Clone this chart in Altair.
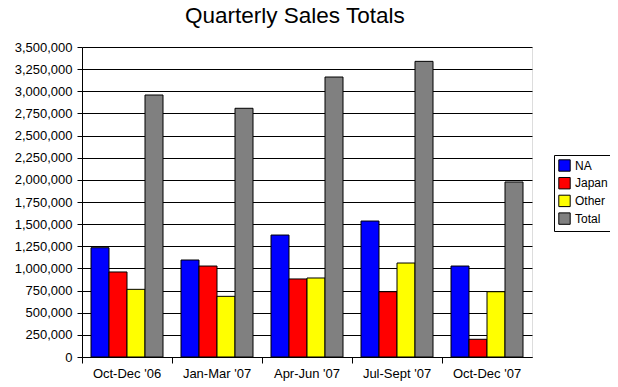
import altair as alt
import pandas as pd

quarters = ["Oct-Dec '06", "Jan-Mar '07", "Apr-Jun '07", "Jul-Sept '07", "Oct-Dec '07"]
series = ["NA", "Japan", "Other", "Total"]
na = [1234000, 1095000, 1377000, 1535000, 1027000]
japan = [960000, 1027000, 881000, 737000, 200000]
other = [764000, 685000, 892000, 1061000, 737000]
total = [2958000, 2808000, 3161000, 3338000, 1976000]
colors = ["#0000FF", "#FF0000", "#FFFF00", "#808080"]
y_ticks = list(range(0, 3500001, 250000))

rows = []
for i, q in enumerate(quarters):
    for s, vals in zip(series, [na, japan, other, total]):
        rows.append({"quarter": q, "series": s, "value": vals[i]})
df = pd.DataFrame(rows)

FONT = "Liberation Sans"

chart = alt.Chart(df).mark_bar(stroke="black", strokeWidth=1).encode(
    x=alt.X("quarter:N", sort=quarters, title=None,
            scale=alt.Scale(paddingInner=0, paddingOuter=0),
            axis=alt.Axis(bandPosition=0, labelAngle=0,
                          tickSize=6, tickColor="black", domainColor="black",
                          labelPadding=4, labelFontSize=13, labelColor="black",
                          labelFont=FONT, grid=False)),
    xOffset=alt.XOffset("series:N", sort=series,
                        scale=alt.Scale(paddingOuter=0.5, paddingInner=0)),
    y=alt.Y("value:Q", title=None,
            scale=alt.Scale(domain=[0, 3500000], nice=False),
            axis=alt.Axis(values=y_ticks, format=",d", tickSize=5,
                          tickColor="black", domainColor="black",
                          gridColor="black", gridOpacity=1, gridWidth=1,
                          labelFontSize=13, labelColor="black", labelFont=FONT,
                          labelPadding=5)),
    color=alt.Color("series:N", sort=series,
                    scale=alt.Scale(domain=series, range=colors),
                    legend=alt.Legend(title=None, orient="none",
                                      legendX=472, legendY=108,
                                      symbolType="square", symbolSize=130,
                                      symbolStrokeColor="black",
                                      symbolStrokeWidth=1,
                                      strokeColor="black", padding=4,
                                      labelFontSize=12, labelColor="black",
                                      labelFont=FONT, rowPadding=0.7,
                                      labelOffset=4)),
).properties(
    width=450,
    height=310,
    autosize=alt.AutoSizeParams(type="none"),
    padding={"left": 74, "top": 39, "right": 78, "bottom": 24},
    title=alt.TitleParams("Quarterly Sales Totals", anchor="start", frame="group",
                          dx=103, fontSize=22.5, fontWeight="normal", font=FONT,
                          color="black", offset=14),
).configure_view(strokeWidth=0).configure(background="white")

chart.save("out.html", embed_options={"renderer": "svg", "actions": False})
